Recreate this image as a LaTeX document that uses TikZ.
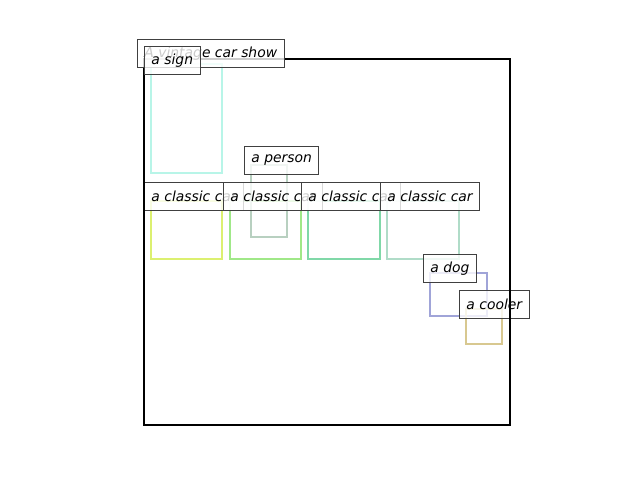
\documentclass[tikz,border=0pt]{standalone}
\usepackage{fontspec}
\setmainfont{DejaVu Sans}

\definecolor{signcol}{HTML}{B8F5E8}
\definecolor{carA}{HTML}{DCF070}
\definecolor{carB}{HTML}{A0E888}
\definecolor{carC}{HTML}{80D8A8}
\definecolor{carD}{HTML}{B0DCC8}
\definecolor{personcol}{HTML}{B8D0C0}
\definecolor{dogcol}{HTML}{A0A4D8}
\definecolor{coolercol}{HTML}{D8C890}

\tikzset{
    bbox/.style = {line width = 1.44pt},
    lbl/.style = {draw = black!75, line width = 0.72pt, fill = white, fill opacity = 0.8, text opacity = 1,
        anchor = south west, inner xsep = 5pt, inner ysep = 0pt, minimum height = 20.16pt,
        font = \fontsize{10}{12}\selectfont\itshape}
}

\begin{document}
\begin{tikzpicture}[x = 0.72pt, y = -0.72pt]
    \useasboundingbox (0, 0) rectangle (640, 480);

    % boxes
    \draw[bbox, signcol] (151, 64) rectangle (222, 173);
    \draw[bbox, carA] (151, 201) rectangle (222, 259);
    \draw[bbox, carB] (230, 201) rectangle (301, 259);
    \draw[bbox, personcol] (251, 165) rectangle (287, 237);
    \draw[bbox, carC] (308, 201) rectangle (380, 259);
    \draw[bbox, carD] (387, 201) rectangle (459, 259);
    \draw[bbox, dogcol] (430, 273) rectangle (487, 316);
    \draw[bbox, coolercol] (466, 309) rectangle (502, 344);

    % labels
    \node[lbl] (person) at (244, 175) {a person};
    \node[lbl] (car1) at (144, 211) {a classic car};
    \node[lbl] (car2) at (223, 211) {a classic car};
    \node[lbl] (car3) at (301, 211) {a classic car};
    \node[lbl] (car4) at (380, 211) {a classic car};
    \node[lbl] (dog) at (423, 283) {a dog};
    \node[lbl] (cooler) at (459, 319) {a cooler};

    \draw[line width = 1.44pt] (144, 59) rectangle (510, 425);

    \node[lbl] (title) at (137, 68) {A vintage car show};
    \node[lbl] (sign) at (144, 75) {a sign};
\end{tikzpicture}
\end{document}
